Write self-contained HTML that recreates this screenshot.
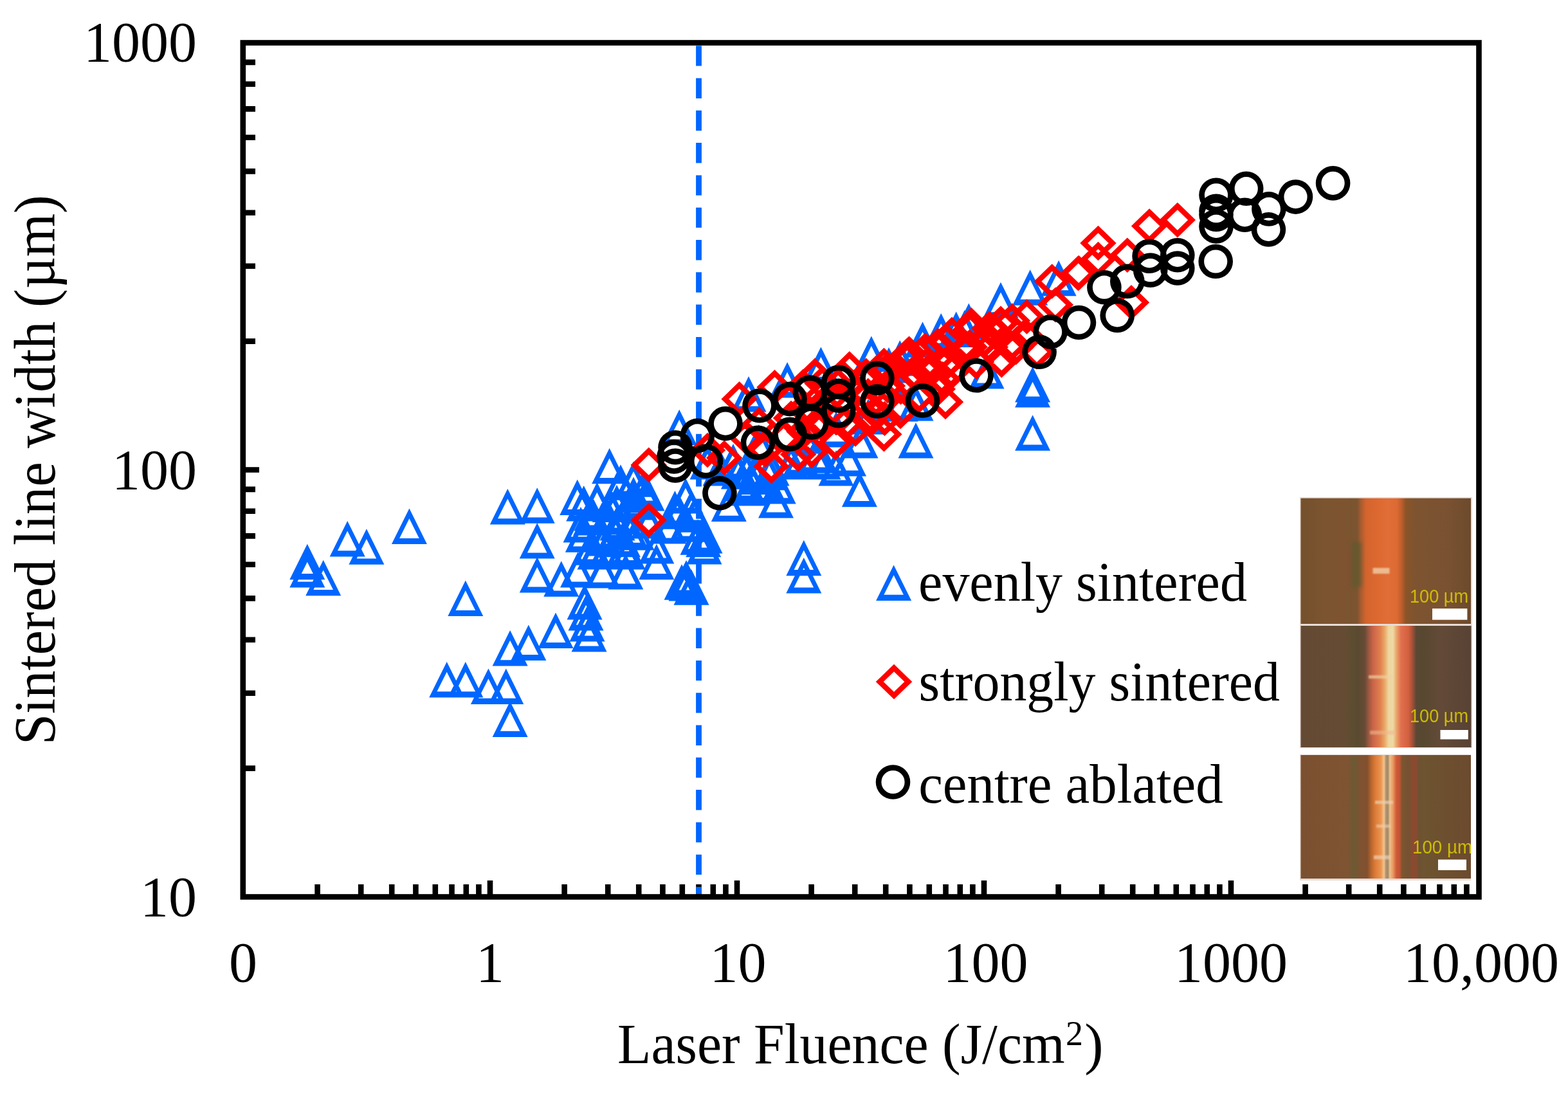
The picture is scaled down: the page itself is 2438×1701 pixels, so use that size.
<!DOCTYPE html>
<html><head><meta charset="utf-8"><title>Sintered line width vs laser fluence</title>
<style>
html,body{margin:0;padding:0;background:#fff;}
body{width:2438px;height:1701px;overflow:hidden;}
svg{display:block;}
.ax{font-family:"Liberation Serif","Times New Roman",serif;fill:#000;}
.sb{font-family:"Liberation Sans",Arial,sans-serif;fill:#d8c800;}
</style></head><body>
<svg width="2438" height="1701" viewBox="0 0 2438 1701">
<rect width="2438" height="1701" fill="#fff"/>
<path d="M493.6 1375.0V1394M561.2 1375.0V1394M609.2 1375.0V1394M646.4 1375.0V1394M676.8 1375.0V1394M702.5 1375.0V1394M724.8 1375.0V1394M744.4 1375.0V1394M762.0 1369.0V1394M877.6 1375.0V1394M945.2 1375.0V1394M993.2 1375.0V1394M1030.4 1375.0V1394M1060.8 1375.0V1394M1086.5 1375.0V1394M1108.8 1375.0V1394M1128.4 1375.0V1394M1146.0 1369.0V1394M1261.6 1375.0V1394M1329.2 1375.0V1394M1377.2 1375.0V1394M1414.4 1375.0V1394M1444.8 1375.0V1394M1470.5 1375.0V1394M1492.8 1375.0V1394M1512.4 1375.0V1394M1530.0 1369.0V1394M1645.6 1375.0V1394M1713.2 1375.0V1394M1761.2 1375.0V1394M1798.4 1375.0V1394M1828.8 1375.0V1394M1854.5 1375.0V1394M1876.8 1375.0V1394M1896.4 1375.0V1394M1914.0 1369.0V1394M2029.6 1375.0V1394M2097.2 1375.0V1394M2145.2 1375.0V1394M2182.4 1375.0V1394M2212.8 1375.0V1394M2238.5 1375.0V1394M2260.8 1375.0V1394M2280.4 1375.0V1394M378 1194.6H397.0M378 1077.7H397.0M378 994.7H397.0M378 930.4H397.0M378 877.8H397.0M378 833.4H397.0M378 794.8H397.0M378 760.9H397.0M378 730.5H403.0M378 530.6H397.0M378 413.7H397.0M378 330.7H397.0M378 266.4H397.0M378 213.8H397.0M378 169.4H397.0M378 130.8H397.0M378 96.9H397.0" stroke="#000" stroke-width="8.6" fill="none"/>
<path d="M1086.5 71.2V1390" stroke="#0066ff" stroke-width="8.8" stroke-dasharray="31.4 18.9" fill="none"/>
<defs><filter id="bl" x="-50%" y="-50%" width="200%" height="200%"><feGaussianBlur stdDeviation="3"/></filter><filter id="bl2" x="-50%" y="-50%" width="200%" height="200%"><feGaussianBlur stdDeviation="1.2"/></filter><linearGradient id="g1" gradientUnits="userSpaceOnUse" x1="2022.5" y1="0" x2="2287.0" y2="0"><stop offset="0.0000" stop-color="#74502c"/><stop offset="0.1418" stop-color="#7c5430"/><stop offset="0.2552" stop-color="#7e5430"/><stop offset="0.2930" stop-color="#7a5430"/><stop offset="0.3308" stop-color="#7c5430"/><stop offset="0.3535" stop-color="#a85c30"/><stop offset="0.3837" stop-color="#d4642e"/><stop offset="0.4442" stop-color="#dc6830"/><stop offset="0.5123" stop-color="#e06e36"/><stop offset="0.5652" stop-color="#dc6a32"/><stop offset="0.5917" stop-color="#c05e2c"/><stop offset="0.6181" stop-color="#8a5428"/><stop offset="0.6711" stop-color="#7e5430"/><stop offset="0.8601" stop-color="#7a5232"/><stop offset="1.0000" stop-color="#6c4a2c"/></linearGradient><linearGradient id="g2" gradientUnits="userSpaceOnUse" x1="2022.5" y1="0" x2="2287.0" y2="0"><stop offset="0.0000" stop-color="#644a32"/><stop offset="0.2552" stop-color="#654b33"/><stop offset="0.2930" stop-color="#5e4d30"/><stop offset="0.3384" stop-color="#5a4a30"/><stop offset="0.3762" stop-color="#684a36"/><stop offset="0.3989" stop-color="#9a5840"/><stop offset="0.4253" stop-color="#cc6448"/><stop offset="0.4669" stop-color="#e0804e"/><stop offset="0.4934" stop-color="#eaa866"/><stop offset="0.5161" stop-color="#eed6a0"/><stop offset="0.5425" stop-color="#eed8a4"/><stop offset="0.5614" stop-color="#eaa86c"/><stop offset="0.5879" stop-color="#e27050"/><stop offset="0.6333" stop-color="#d2603e"/><stop offset="0.6560" stop-color="#a45038"/><stop offset="0.6786" stop-color="#5a4834"/><stop offset="0.7164" stop-color="#584830"/><stop offset="0.8223" stop-color="#634a38"/><stop offset="1.0000" stop-color="#584234"/></linearGradient><linearGradient id="g3" gradientUnits="userSpaceOnUse" x1="2022.5" y1="0" x2="2287.0" y2="0"><stop offset="0.0000" stop-color="#7a5030"/><stop offset="0.2741" stop-color="#7e5432"/><stop offset="0.3157" stop-color="#6c5a34"/><stop offset="0.3459" stop-color="#7e5232"/><stop offset="0.3913" stop-color="#84502e"/><stop offset="0.4140" stop-color="#b8662e"/><stop offset="0.4367" stop-color="#dc7a36"/><stop offset="0.4707" stop-color="#eb9450"/><stop offset="0.4896" stop-color="#f2c48a"/><stop offset="0.5009" stop-color="#b09070"/><stop offset="0.5123" stop-color="#a08a6a"/><stop offset="0.5236" stop-color="#eec088"/><stop offset="0.5425" stop-color="#e8985e"/><stop offset="0.5614" stop-color="#d05a38"/><stop offset="0.5803" stop-color="#c45434"/><stop offset="0.5955" stop-color="#7e5430"/><stop offset="0.6333" stop-color="#745232"/><stop offset="0.6560" stop-color="#8a4a30"/><stop offset="0.6786" stop-color="#8a4a30"/><stop offset="0.6938" stop-color="#6c5232"/><stop offset="0.7240" stop-color="#6e5430"/><stop offset="1.0000" stop-color="#6c4a2e"/></linearGradient></defs>
<g><rect x="2021" y="773" width="268" height="596" fill="#e9dcd6"/><rect x="2022.5" y="774.7" width="264.5" height="195.3" fill="url(#g1)"/><rect x="2022.5" y="973" width="265" height="189" fill="url(#g2)"/><rect x="2021" y="1163" width="268" height="10" fill="#fff"/><rect x="2022.5" y="1174" width="264.5" height="192" fill="url(#g3)"/><g filter="url(#bl)"><rect x="2101" y="843" width="16" height="70" fill="#5e5a30" opacity="0.7"/><rect x="2094" y="850" width="6" height="60" fill="#8a4a30" opacity="0.5"/></g><g filter="url(#bl2)"><rect x="2134.5" y="883" width="26" height="9" fill="#f0c8a0" opacity="0.85"/><rect x="2128" y="1050" width="38" height="5" fill="#f0d0a0" opacity="0.7"/><rect x="2130" y="1136" width="40" height="6" fill="#f0b890" opacity="0.6"/><rect x="2138" y="1245" width="28" height="5" fill="#f0d0b0" opacity="0.7"/><rect x="2140" y="1282" width="22" height="5" fill="#f0d0b0" opacity="0.6"/><rect x="2136" y="1330" width="26" height="6" fill="#f0d0b0" opacity="0.7"/></g><rect x="2227" y="946.2" width="54.4" height="17.5" fill="#fff"/><rect x="2239.5" y="1135" width="43.3" height="14.5" fill="#fff"/><rect x="2236" y="1336.5" width="44" height="16.5" fill="#fff"/><g class="sb" font-size="29" opacity="0.9"><text x="2192" y="936.8" textLength="91" lengthAdjust="spacingAndGlyphs">100 µm</text><text x="2192" y="1122.7" textLength="91" lengthAdjust="spacingAndGlyphs">100 µm</text><text x="2196" y="1327" textLength="93" lengthAdjust="spacingAndGlyphs">100 µm</text></g><rect x="2287" y="1170" width="8" height="205" fill="#fff"/></g>
<path d="M477.8 845.8L505.3 901.3L450.3 901.3ZM477.8 861.5L462.5 892.1L493.1 892.1ZM477.8 858.0L505.3 913.5L450.3 913.5ZM477.8 873.8L462.5 904.4L493.1 904.4ZM502.7 870.7L530.2 926.2L475.2 926.2ZM502.7 886.5L487.4 917.1L518.0 917.1ZM540.2 809.9L567.7 865.4L512.7 865.4ZM540.2 825.6L524.9 856.2L555.5 856.2ZM569.9 822.3L597.4 877.8L542.4 877.8ZM569.9 838.0L554.6 868.6L585.2 868.6ZM636.4 790.5L663.9 846.0L608.9 846.0ZM636.4 806.2L621.1 836.9L651.7 836.9ZM723.8 902.5L751.3 958.0L696.3 958.0ZM723.8 918.2L708.5 948.9L739.1 948.9ZM694.7 1029.0L722.2 1084.5L667.2 1084.5ZM694.7 1044.8L679.4 1075.3L710.0 1075.3ZM723.8 1029.0L751.3 1084.5L696.3 1084.5ZM723.8 1044.8L708.5 1075.3L739.1 1075.3ZM759.4 1039.5L786.9 1095.0L731.9 1095.0ZM759.4 1055.2L744.1 1085.8L774.7 1085.8ZM786.8 1039.5L814.3 1095.0L759.3 1095.0ZM786.8 1055.2L771.5 1085.8L802.1 1085.8ZM793.1 1090.5L820.6 1146.0L765.6 1146.0ZM793.1 1106.2L777.8 1136.8L808.4 1136.8ZM793.1 980.0L820.6 1035.5L765.6 1035.5ZM793.1 995.8L777.8 1026.3L808.4 1026.3ZM821.8 971.5L849.3 1027.0L794.3 1027.0ZM821.8 987.2L806.5 1017.9L837.1 1017.9ZM864.0 952.5L891.5 1008.0L836.5 1008.0ZM864.0 968.2L848.7 998.9L879.3 998.9ZM909.0 908.0L936.5 963.5L881.5 963.5ZM909.0 923.8L893.7 954.4L924.3 954.4ZM911.0 925.0L938.5 980.5L883.5 980.5ZM911.0 940.8L895.7 971.4L926.3 971.4ZM913.0 942.0L940.5 997.5L885.5 997.5ZM913.0 957.8L897.7 988.4L928.3 988.4ZM916.0 958.0L943.5 1013.5L888.5 1013.5ZM916.0 973.8L900.7 1004.4L931.3 1004.4ZM789.3 759.9L816.8 815.4L761.8 815.4ZM789.3 775.6L774.0 806.2L804.6 806.2ZM835.2 758.3L862.7 813.8L807.7 813.8ZM835.2 774.0L819.9 804.6L850.5 804.6ZM835.2 813.0L862.7 868.5L807.7 868.5ZM835.2 828.8L819.9 859.4L850.5 859.4ZM835.2 866.0L862.7 921.5L807.7 921.5ZM835.2 881.8L819.9 912.4L850.5 912.4ZM872.7 872.3L900.2 927.8L845.2 927.8ZM872.7 888.0L857.4 918.6L888.0 918.6ZM947.6 696.8L975.1 752.3L920.1 752.3ZM947.6 712.5L932.3 743.1L962.9 743.1ZM897.7 745.5L925.2 801.0L870.2 801.0ZM897.7 761.2L882.4 791.9L913.0 791.9ZM948.3 756.6L975.8 812.1L920.8 812.1ZM948.3 772.4L933.0 803.0L963.6 803.0ZM992.0 753.0L1019.5 808.5L964.5 808.5ZM992.0 768.8L976.7 799.4L1007.3 799.4ZM985.0 741.5L1012.5 797.0L957.5 797.0ZM985.0 757.2L969.7 787.9L1000.3 787.9ZM1006.0 739.0L1033.5 794.5L978.5 794.5ZM1006.0 754.8L990.7 785.4L1021.3 785.4ZM903.0 788.0L930.5 843.5L875.5 843.5ZM903.0 803.8L887.7 834.4L918.3 834.4ZM939.6 809.0L967.1 864.5L912.1 864.5ZM939.6 824.8L924.3 855.4L954.9 855.4ZM968.4 810.8L995.9 866.3L940.9 866.3ZM968.4 826.5L953.1 857.1L983.7 857.1ZM976.0 830.0L1003.5 885.5L948.5 885.5ZM976.0 845.8L960.7 876.4L991.3 876.4ZM898.5 858.0L926.0 913.5L871.0 913.5ZM898.5 873.8L883.2 904.4L913.8 904.4ZM937.0 859.0L964.5 914.5L909.5 914.5ZM937.0 874.8L921.7 905.4L952.3 905.4ZM972.8 861.0L1000.3 916.5L945.3 916.5ZM972.8 876.8L957.5 907.4L988.1 907.4ZM1020.8 845.7L1048.3 901.2L993.3 901.2ZM1020.8 861.5L1005.5 892.1L1036.1 892.1ZM1020.8 821.0L1048.3 876.5L993.3 876.5ZM1020.8 836.8L1005.5 867.4L1036.1 867.4ZM1008.5 782.0L1036.0 837.5L981.0 837.5ZM1008.5 797.8L993.2 828.4L1023.8 828.4ZM920.0 770.0L947.5 825.5L892.5 825.5ZM920.0 785.8L904.7 816.4L935.3 816.4ZM960.0 785.0L987.5 840.5L932.5 840.5ZM960.0 800.8L944.7 831.4L975.3 831.4ZM925.0 830.0L952.5 885.5L897.5 885.5ZM925.0 845.8L909.7 876.4L940.3 876.4ZM990.0 800.0L1017.5 855.5L962.5 855.5ZM990.0 815.8L974.7 846.4L1005.3 846.4ZM1066.0 743.0L1093.5 798.5L1038.5 798.5ZM1066.0 758.8L1050.7 789.4L1081.3 789.4ZM1075.0 762.0L1102.5 817.5L1047.5 817.5ZM1075.0 777.8L1059.7 808.4L1090.3 808.4ZM1049.4 763.0L1076.9 818.5L1021.9 818.5ZM1049.4 778.8L1034.1 809.4L1064.7 809.4ZM1096.0 805.0L1123.5 860.5L1068.5 860.5ZM1096.0 820.8L1080.7 851.4L1111.3 851.4ZM1095.0 822.0L1122.5 877.5L1067.5 877.5ZM1095.0 837.8L1079.7 868.4L1110.3 868.4ZM1161.0 703.5L1188.5 759.0L1133.5 759.0ZM1161.0 719.2L1145.7 749.9L1176.3 749.9ZM1176.8 713.5L1204.3 769.0L1149.3 769.0ZM1176.8 729.2L1161.5 759.9L1192.1 759.9ZM1155.8 724.0L1183.3 779.5L1128.3 779.5ZM1155.8 739.8L1140.5 770.4L1171.1 770.4ZM1133.3 755.4L1160.8 810.9L1105.8 810.9ZM1133.3 771.1L1118.0 801.8L1148.6 801.8ZM1206.5 750.0L1234.0 805.5L1179.0 805.5ZM1206.5 765.8L1191.2 796.4L1221.8 796.4ZM1067.0 871.0L1094.5 926.5L1039.5 926.5ZM1067.0 886.8L1051.7 917.4L1082.3 917.4ZM1067.0 879.0L1094.5 934.5L1039.5 934.5ZM1067.0 894.8L1051.7 925.4L1082.3 925.4ZM1093.7 810.8L1121.2 866.3L1066.2 866.3ZM1093.7 826.5L1078.4 857.1L1109.0 857.1ZM1040.0 790.0L1067.5 845.5L1012.5 845.5ZM1040.0 805.8L1024.7 836.4L1055.3 836.4ZM1120.0 700.0L1147.5 755.5L1092.5 755.5ZM1120.0 715.8L1104.7 746.4L1135.3 746.4ZM1140.0 690.0L1167.5 745.5L1112.5 745.5ZM1140.0 705.8L1124.7 736.4L1155.3 736.4ZM1100.0 690.0L1127.5 745.5L1072.5 745.5ZM1100.0 705.8L1084.7 736.4L1115.3 736.4ZM1249.8 839.7L1277.3 895.2L1222.3 895.2ZM1249.8 855.5L1234.5 886.1L1265.1 886.1ZM1249.8 867.0L1277.3 922.5L1222.3 922.5ZM1249.8 882.8L1234.5 913.4L1265.1 913.4ZM1056.2 636.8L1083.7 692.3L1028.7 692.3ZM1056.2 652.5L1040.9 683.1L1071.5 683.1ZM1164.0 585.1L1191.5 640.6L1136.5 640.6ZM1164.0 600.9L1148.7 631.5L1179.3 631.5ZM1224.1 562.9L1251.6 618.4L1196.6 618.4ZM1224.1 578.6L1208.8 609.2L1239.4 609.2ZM1276.4 539.4L1303.9 594.9L1248.9 594.9ZM1276.4 555.1L1261.1 585.8L1291.7 585.8ZM1354.8 522.4L1382.3 577.9L1327.3 577.9ZM1354.8 538.1L1339.5 568.8L1370.1 568.8ZM1399.2 528.9L1426.7 584.4L1371.7 584.4ZM1399.2 544.6L1383.9 575.2L1414.5 575.2ZM1434.5 500.2L1462.0 555.7L1407.0 555.7ZM1434.5 516.0L1419.2 546.6L1449.8 546.6ZM1463.2 487.1L1490.7 542.6L1435.7 542.6ZM1463.2 502.9L1447.9 533.5L1478.5 533.5ZM1506.3 471.5L1533.8 527.0L1478.8 527.0ZM1506.3 487.2L1491.0 517.9L1521.6 517.9ZM1556.0 438.8L1583.5 494.3L1528.5 494.3ZM1556.0 454.6L1540.7 485.2L1571.3 485.2ZM1601.7 419.2L1629.2 474.7L1574.2 474.7ZM1601.7 434.9L1586.4 465.6L1617.0 465.6ZM1646.1 404.8L1673.6 460.3L1618.6 460.3ZM1646.1 420.6L1630.8 451.2L1661.4 451.2ZM1486.7 484.5L1514.2 540.0L1459.2 540.0ZM1486.7 500.2L1471.4 530.9L1502.0 530.9ZM1499.8 481.9L1527.3 537.4L1472.3 537.4ZM1499.8 497.6L1484.5 528.2L1515.1 528.2ZM1382.0 540.0L1409.5 595.5L1354.5 595.5ZM1382.0 555.8L1366.7 586.4L1397.3 586.4ZM1534.0 549.0L1561.5 604.5L1506.5 604.5ZM1534.0 564.8L1518.7 595.4L1549.3 595.4ZM1424.0 599.0L1451.5 654.5L1396.5 654.5ZM1424.0 614.8L1408.7 645.4L1439.3 645.4ZM1605.6 645.2L1633.1 700.7L1578.1 700.7ZM1605.6 661.0L1590.3 691.6L1620.9 691.6ZM1605.6 570.0L1633.1 625.5L1578.1 625.5ZM1605.6 585.8L1590.3 616.4L1620.9 616.4ZM1605.6 578.0L1633.1 633.5L1578.1 633.5ZM1605.6 593.8L1590.3 624.4L1620.9 624.4ZM1424.0 657.0L1451.5 712.5L1396.5 712.5ZM1424.0 672.8L1408.7 703.4L1439.3 703.4ZM1338.0 657.0L1365.5 712.5L1310.5 712.5ZM1338.0 672.8L1322.7 703.4L1353.3 703.4ZM1336.4 732.7L1363.9 788.2L1308.9 788.2ZM1336.4 748.5L1321.1 779.1L1351.7 779.1ZM1319.5 685.0L1347.0 740.5L1292.0 740.5ZM1319.5 700.8L1304.2 731.4L1334.8 731.4ZM1300.0 700.0L1327.5 755.5L1272.5 755.5ZM1300.0 715.8L1284.7 746.4L1315.3 746.4ZM1280.0 690.0L1307.5 745.5L1252.5 745.5ZM1280.0 705.8L1264.7 736.4L1295.3 736.4ZM1200.0 700.0L1227.5 755.5L1172.5 755.5ZM1200.0 715.8L1184.7 746.4L1215.3 746.4ZM1230.0 690.0L1257.5 745.5L1202.5 745.5ZM1230.0 705.8L1214.7 736.4L1245.3 736.4ZM1180.0 660.0L1207.5 715.5L1152.5 715.5ZM1180.0 675.8L1164.7 706.4L1195.3 706.4ZM1250.0 650.0L1277.5 705.5L1222.5 705.5ZM1250.0 665.8L1234.7 696.4L1265.3 696.4ZM1300.0 640.0L1327.5 695.5L1272.5 695.5ZM1300.0 655.8L1284.7 686.4L1315.3 686.4ZM1350.0 620.0L1377.5 675.5L1322.5 675.5ZM1350.0 635.8L1334.7 666.4L1365.3 666.4ZM1400.0 600.0L1427.5 655.5L1372.5 655.5ZM1400.0 615.8L1384.7 646.4L1415.3 646.4ZM907.7 754.9L935.2 810.4L880.2 810.4ZM907.7 770.7L892.4 801.3L923.0 801.3ZM928.3 749.8L955.8 805.3L900.8 805.3ZM928.3 765.5L913.0 796.1L943.6 796.1ZM959.0 753.7L986.5 809.2L931.5 809.2ZM959.0 769.4L943.7 800.0L974.3 800.0ZM984.0 751.1L1011.5 806.6L956.5 806.6ZM984.0 766.8L968.7 797.4L999.3 797.4ZM918.6 776.9L946.1 832.4L891.1 832.4ZM918.6 792.6L903.3 823.2L933.9 823.2ZM944.5 774.2L972.0 829.7L917.0 829.7ZM944.5 790.0L929.2 820.6L959.8 820.6ZM969.6 775.6L997.1 831.1L942.1 831.1ZM969.6 791.4L954.3 822.0L984.9 822.0ZM906.3 803.2L933.8 858.7L878.8 858.7ZM906.3 819.0L891.0 849.6L921.6 849.6ZM933.7 800.5L961.2 856.0L906.2 856.0ZM933.7 816.3L918.4 846.9L949.0 846.9ZM956.7 798.9L984.2 854.4L929.2 854.4ZM956.7 814.6L941.4 845.2L972.0 845.2ZM980.2 797.4L1007.7 852.9L952.7 852.9ZM980.2 813.2L964.9 843.8L995.5 843.8ZM917.8 823.2L945.3 878.7L890.3 878.7ZM917.8 838.9L902.5 869.5L933.1 869.5ZM943.3 826.6L970.8 882.1L915.8 882.1ZM943.3 842.4L928.0 873.0L958.6 873.0ZM970.2 824.6L997.7 880.1L942.7 880.1ZM970.2 840.4L954.9 871.0L985.5 871.0ZM985.0 717.2L1012.5 772.8L957.5 772.8ZM985.0 733.0L969.7 763.6L1000.3 763.6ZM1000.0 732.2L1027.5 787.8L972.5 787.8ZM1000.0 748.0L984.7 778.6L1015.3 778.6ZM965.0 722.2L992.5 777.8L937.5 777.8ZM965.0 738.0L949.7 768.6L980.3 768.6ZM1055.0 767.2L1082.5 822.8L1027.5 822.8ZM1055.0 783.0L1039.7 813.6L1070.3 813.6ZM1080.0 772.2L1107.5 827.8L1052.5 827.8ZM1080.0 788.0L1064.7 818.6L1095.3 818.6ZM1068.0 787.2L1095.5 842.8L1040.5 842.8ZM1068.0 803.0L1052.7 833.6L1083.3 833.6ZM1085.0 807.2L1112.5 862.8L1057.5 862.8ZM1085.0 823.0L1069.7 853.6L1100.3 853.6ZM1148.4 704.9L1175.9 760.4L1120.9 760.4ZM1148.4 720.6L1133.1 751.2L1163.7 751.2ZM1173.4 705.2L1200.9 760.7L1145.9 760.7ZM1173.4 720.9L1158.1 751.5L1188.7 751.5ZM1195.4 706.7L1222.9 762.2L1167.9 762.2ZM1195.4 722.4L1180.1 753.0L1210.7 753.0ZM1164.5 731.1L1192.0 786.6L1137.0 786.6ZM1164.5 746.8L1149.2 777.4L1179.8 777.4ZM1187.6 727.6L1215.1 783.1L1160.1 783.1ZM1187.6 743.3L1172.3 773.9L1202.9 773.9ZM1210.2 727.9L1237.7 783.4L1182.7 783.4ZM1210.2 743.7L1194.9 774.3L1225.5 774.3ZM1075.0 885.2L1102.5 940.8L1047.5 940.8ZM1075.0 901.0L1059.7 931.6L1090.3 931.6ZM1060.0 877.2L1087.5 932.8L1032.5 932.8ZM1060.0 893.0L1044.7 923.6L1075.3 923.6ZM1245.0 684.2L1272.5 739.8L1217.5 739.8ZM1245.0 700.0L1229.7 730.6L1260.3 730.6ZM1268.0 680.2L1295.5 735.8L1240.5 735.8ZM1268.0 696.0L1252.7 726.6L1283.3 726.6Z" fill="#0066ff"/>
<path d="M1008.7 695.6L1036.9 722.9L1008.7 750.2L980.5 722.9ZM1008.7 707.1L992.4 722.9L1008.7 738.7L1025.0 722.9ZM1008.7 781.5L1036.9 808.8L1008.7 836.1L980.5 808.8ZM1008.7 793.0L992.4 808.8L1008.7 824.6L1025.0 808.8ZM1149.6 593.1L1177.8 620.4L1149.6 647.7L1121.4 620.4ZM1149.6 604.6L1133.3 620.4L1149.6 636.2L1165.9 620.4ZM1204.5 574.8L1232.7 602.1L1204.5 629.4L1176.3 602.1ZM1204.5 586.3L1188.2 602.1L1204.5 617.9L1220.8 602.1ZM1267.2 556.5L1295.4 583.8L1267.2 611.1L1239.0 583.8ZM1267.2 568.0L1250.9 583.8L1267.2 599.6L1283.5 583.8ZM1320.8 546.1L1349.0 573.4L1320.8 600.7L1292.6 573.4ZM1320.8 557.6L1304.5 573.4L1320.8 589.2L1337.1 573.4ZM1374.4 540.8L1402.6 568.1L1374.4 595.4L1346.2 568.1ZM1374.4 552.3L1358.1 568.1L1374.4 583.9L1390.7 568.1ZM1413.6 522.5L1441.8 549.8L1413.6 577.1L1385.4 549.8ZM1413.6 534.0L1397.3 549.8L1413.6 565.6L1429.9 549.8ZM1458.0 509.5L1486.2 536.8L1458.0 564.1L1429.8 536.8ZM1458.0 521.0L1441.7 536.8L1458.0 552.6L1474.3 536.8ZM1510.2 478.1L1538.4 505.4L1510.2 532.7L1482.0 505.4ZM1510.2 489.6L1493.9 505.4L1510.2 521.2L1526.5 505.4ZM1556.0 475.5L1584.2 502.8L1556.0 530.1L1527.8 502.8ZM1556.0 487.0L1539.7 502.8L1556.0 518.6L1572.3 502.8ZM1507.6 512.1L1535.8 539.4L1507.6 566.7L1479.4 539.4ZM1507.6 523.6L1491.3 539.4L1507.6 555.2L1523.9 539.4ZM1557.3 533.0L1585.5 560.3L1557.3 587.6L1529.1 560.3ZM1557.3 544.5L1541.0 560.3L1557.3 576.1L1573.6 560.3ZM1635.7 410.2L1663.9 437.5L1635.7 464.8L1607.5 437.5ZM1635.7 421.7L1619.4 437.5L1635.7 453.3L1652.0 437.5ZM1677.5 397.1L1705.7 424.4L1677.5 451.7L1649.3 424.4ZM1677.5 408.6L1661.2 424.4L1677.5 440.2L1693.8 424.4ZM1640.9 446.8L1669.1 474.1L1640.9 501.4L1612.7 474.1ZM1640.9 458.3L1624.6 474.1L1640.9 489.9L1657.2 474.1ZM1596.5 465.1L1624.7 492.4L1596.5 519.7L1568.3 492.4ZM1596.5 476.6L1580.2 492.4L1596.5 508.2L1612.8 492.4ZM1596.5 496.4L1624.7 523.7L1596.5 551.0L1568.3 523.7ZM1596.5 507.9L1580.2 523.7L1596.5 539.5L1612.8 523.7ZM1612.1 519.9L1640.3 547.2L1612.1 574.5L1583.9 547.2ZM1612.1 531.4L1595.8 547.2L1612.1 563.0L1628.4 547.2ZM1374.4 648.0L1402.6 675.3L1374.4 702.6L1346.2 675.3ZM1374.4 659.5L1358.1 675.3L1374.4 691.1L1390.7 675.3ZM1298.6 661.0L1326.8 688.3L1298.6 715.6L1270.4 688.3ZM1298.6 672.5L1282.3 688.3L1298.6 704.1L1314.9 688.3ZM1241.1 679.3L1269.3 706.6L1241.1 733.9L1212.9 706.6ZM1241.1 690.8L1224.8 706.6L1241.1 722.4L1257.4 706.6ZM1199.3 697.6L1227.5 724.9L1199.3 752.2L1171.1 724.9ZM1199.3 709.1L1183.0 724.9L1199.3 740.7L1215.6 724.9ZM1126.1 684.6L1154.3 711.9L1126.1 739.2L1097.9 711.9ZM1126.1 696.1L1109.8 711.9L1126.1 727.7L1142.4 711.9ZM1429.2 587.9L1457.4 615.2L1429.2 642.5L1401.0 615.2ZM1429.2 599.4L1412.9 615.2L1429.2 631.0L1445.5 615.2ZM1465.8 561.7L1494.0 589.0L1465.8 616.3L1437.6 589.0ZM1465.8 573.2L1449.5 589.0L1465.8 604.8L1482.1 589.0ZM1361.3 614.0L1389.5 641.3L1361.3 668.6L1333.1 641.3ZM1361.3 625.5L1345.0 641.3L1361.3 657.1L1377.6 641.3ZM1267.2 634.9L1295.4 662.2L1267.2 689.5L1239.0 662.2ZM1267.2 646.4L1250.9 662.2L1267.2 678.0L1283.5 662.2ZM1330.0 640.1L1358.2 667.4L1330.0 694.7L1301.8 667.4ZM1330.0 651.6L1313.7 667.4L1330.0 683.2L1346.3 667.4ZM1400.5 574.8L1428.7 602.1L1400.5 629.4L1372.3 602.1ZM1400.5 586.3L1384.2 602.1L1400.5 617.9L1416.8 602.1ZM1445.0 548.7L1473.2 576.0L1445.0 603.3L1416.8 576.0ZM1445.0 560.2L1428.7 576.0L1445.0 591.8L1461.3 576.0ZM1518.0 535.7L1546.2 563.0L1518.0 590.3L1489.8 563.0ZM1518.0 547.2L1501.7 563.0L1518.0 578.8L1534.3 563.0ZM1256.8 614.0L1285.0 641.3L1256.8 668.6L1228.6 641.3ZM1256.8 625.5L1240.5 641.3L1256.8 657.1L1273.1 641.3ZM1262.0 674.1L1290.2 701.4L1262.0 728.7L1233.8 701.4ZM1262.0 685.6L1245.7 701.4L1262.0 717.2L1278.3 701.4ZM1480.0 550.7L1508.2 578.0L1480.0 605.3L1451.8 578.0ZM1480.0 562.2L1463.7 578.0L1480.0 593.8L1496.3 578.0ZM1441.0 539.7L1469.2 567.0L1441.0 594.3L1412.8 567.0ZM1441.0 551.2L1424.7 567.0L1441.0 582.8L1457.3 567.0ZM1457.8 577.7L1486.0 605.0L1457.8 632.3L1429.6 605.0ZM1457.8 589.2L1441.5 605.0L1457.8 620.8L1474.1 605.0ZM1470.0 597.7L1498.2 625.0L1470.0 652.3L1441.8 625.0ZM1470.0 609.2L1453.7 625.0L1470.0 640.8L1486.3 625.0ZM1411.0 524.7L1439.2 552.0L1411.0 579.3L1382.8 552.0ZM1411.0 536.2L1394.7 552.0L1411.0 567.8L1427.3 552.0ZM1330.0 582.7L1358.2 610.0L1330.0 637.3L1301.8 610.0ZM1330.0 594.2L1313.7 610.0L1330.0 625.8L1346.3 610.0ZM1300.0 622.7L1328.2 650.0L1300.0 677.3L1271.8 650.0ZM1300.0 634.2L1283.7 650.0L1300.0 665.8L1316.3 650.0ZM1400.0 612.7L1428.2 640.0L1400.0 667.3L1371.8 640.0ZM1400.0 624.2L1383.7 640.0L1400.0 655.8L1416.3 640.0ZM1180.0 632.7L1208.2 660.0L1180.0 687.3L1151.8 660.0ZM1180.0 644.2L1163.7 660.0L1180.0 675.8L1196.3 660.0ZM1230.0 622.7L1258.2 650.0L1230.0 677.3L1201.8 650.0ZM1230.0 634.2L1213.7 650.0L1230.0 665.8L1246.3 650.0ZM1220.0 652.7L1248.2 680.0L1220.0 707.3L1191.8 680.0ZM1220.0 664.2L1203.7 680.0L1220.0 695.8L1236.3 680.0ZM1530.0 502.7L1558.2 530.0L1530.0 557.3L1501.8 530.0ZM1530.0 514.2L1513.7 530.0L1530.0 545.8L1546.3 530.0ZM1550.0 492.7L1578.2 520.0L1550.0 547.3L1521.8 520.0ZM1550.0 504.2L1533.7 520.0L1550.0 535.8L1566.3 520.0ZM1580.0 512.7L1608.2 540.0L1580.0 567.3L1551.8 540.0ZM1580.0 524.2L1563.7 540.0L1580.0 555.8L1596.3 540.0ZM1480.0 492.7L1508.2 520.0L1480.0 547.3L1451.8 520.0ZM1480.0 504.2L1463.7 520.0L1480.0 535.8L1496.3 520.0ZM1420.0 552.7L1448.2 580.0L1420.0 607.3L1391.8 580.0ZM1420.0 564.2L1403.7 580.0L1420.0 595.8L1436.3 580.0ZM1380.0 572.7L1408.2 600.0L1380.0 627.3L1351.8 600.0ZM1380.0 584.2L1363.7 600.0L1380.0 615.8L1396.3 600.0ZM1340.0 592.7L1368.2 620.0L1340.0 647.3L1311.8 620.0ZM1340.0 604.2L1323.7 620.0L1340.0 635.8L1356.3 620.0ZM1290.0 592.7L1318.2 620.0L1290.0 647.3L1261.8 620.0ZM1290.0 604.2L1273.7 620.0L1290.0 635.8L1306.3 620.0ZM1160.0 652.7L1188.2 680.0L1160.0 707.3L1131.8 680.0ZM1160.0 664.2L1143.7 680.0L1160.0 695.8L1176.3 680.0ZM1190.0 672.7L1218.2 700.0L1190.0 727.3L1161.8 700.0ZM1190.0 684.2L1173.7 700.0L1190.0 715.8L1206.3 700.0ZM1100.0 672.7L1128.2 700.0L1100.0 727.3L1071.8 700.0ZM1100.0 684.2L1083.7 700.0L1100.0 715.8L1116.3 700.0ZM1707.5 350.7L1735.7 378.0L1707.5 405.3L1679.3 378.0ZM1707.5 362.2L1691.2 378.0L1707.5 393.8L1723.8 378.0ZM1752.8 369.5L1781.0 396.8L1752.8 424.1L1724.6 396.8ZM1752.8 381.0L1736.5 396.8L1752.8 412.6L1769.1 396.8ZM1707.5 375.7L1735.7 403.0L1707.5 430.3L1679.3 403.0ZM1707.5 387.2L1691.2 403.0L1707.5 418.8L1723.8 403.0ZM1759.0 442.9L1787.2 470.2L1759.0 497.5L1730.8 470.2ZM1759.0 454.4L1742.7 470.2L1759.0 486.0L1775.3 470.2ZM1676.3 397.6L1704.5 424.9L1676.3 452.2L1648.1 424.9ZM1676.3 409.1L1660.0 424.9L1676.3 440.7L1692.6 424.9ZM1787.1 324.2L1815.3 351.5L1787.1 378.8L1758.9 351.5ZM1787.1 335.7L1770.8 351.5L1787.1 367.3L1803.4 351.5ZM1830.8 314.8L1859.0 342.1L1830.8 369.4L1802.6 342.1ZM1830.8 326.3L1814.5 342.1L1830.8 357.9L1847.1 342.1ZM1248.6 573.8L1276.8 601.1L1248.6 628.4L1220.4 601.1ZM1248.6 585.3L1232.3 601.1L1248.6 616.9L1264.9 601.1ZM1251.2 607.2L1279.4 634.5L1251.2 661.8L1223.0 634.5ZM1251.2 618.7L1234.9 634.5L1251.2 650.3L1267.5 634.5ZM1250.3 643.6L1278.5 670.9L1250.3 698.2L1222.1 670.9ZM1250.3 655.1L1234.0 670.9L1250.3 686.7L1266.6 670.9ZM1278.5 568.9L1306.7 596.2L1278.5 623.5L1250.3 596.2ZM1278.5 580.4L1262.2 596.2L1278.5 612.0L1294.8 596.2ZM1278.3 602.3L1306.5 629.6L1278.3 656.9L1250.1 629.6ZM1278.3 613.8L1262.0 629.6L1278.3 645.4L1294.6 629.6ZM1278.6 633.5L1306.8 660.8L1278.6 688.1L1250.4 660.8ZM1278.6 645.0L1262.3 660.8L1278.6 676.6L1294.9 660.8ZM1313.4 562.3L1341.6 589.6L1313.4 616.9L1285.2 589.6ZM1313.4 573.8L1297.1 589.6L1313.4 605.4L1329.7 589.6ZM1311.0 591.5L1339.2 618.8L1311.0 646.1L1282.8 618.8ZM1311.0 603.0L1294.7 618.8L1311.0 634.6L1327.3 618.8ZM1315.0 631.3L1343.2 658.6L1315.0 685.9L1286.8 658.6ZM1315.0 642.8L1298.7 658.6L1315.0 674.4L1331.3 658.6ZM1346.6 556.6L1374.8 583.9L1346.6 611.2L1318.4 583.9ZM1346.6 568.1L1330.3 583.9L1346.6 599.7L1362.9 583.9ZM1349.8 587.8L1378.0 615.1L1349.8 642.4L1321.6 615.1ZM1349.8 599.3L1333.5 615.1L1349.8 630.9L1366.1 615.1ZM1348.9 623.7L1377.1 651.0L1348.9 678.3L1320.7 651.0ZM1348.9 635.2L1332.6 651.0L1348.9 666.8L1365.2 651.0ZM1375.2 551.7L1403.4 579.0L1375.2 606.3L1347.0 579.0ZM1375.2 563.2L1358.9 579.0L1375.2 594.8L1391.5 579.0ZM1376.5 591.3L1404.7 618.6L1376.5 645.9L1348.3 618.6ZM1376.5 602.8L1360.2 618.6L1376.5 634.4L1392.8 618.6ZM1375.4 623.4L1403.6 650.7L1375.4 678.0L1347.2 650.7ZM1375.4 634.9L1359.1 650.7L1375.4 666.5L1391.7 650.7ZM1411.1 532.7L1439.3 560.0L1411.1 587.3L1382.9 560.0ZM1411.1 544.2L1394.8 560.0L1411.1 575.8L1427.4 560.0ZM1410.4 564.2L1438.6 591.5L1410.4 618.8L1382.2 591.5ZM1410.4 575.7L1394.1 591.5L1410.4 607.3L1426.7 591.5ZM1438.5 517.2L1466.7 544.5L1438.5 571.8L1410.3 544.5ZM1438.5 528.7L1422.2 544.5L1438.5 560.3L1454.8 544.5ZM1443.4 553.0L1471.6 580.3L1443.4 607.6L1415.2 580.3ZM1443.4 564.5L1427.1 580.3L1443.4 596.1L1459.7 580.3ZM1472.5 504.1L1500.7 531.4L1472.5 558.7L1444.3 531.4ZM1472.5 515.6L1456.2 531.4L1472.5 547.2L1488.8 531.4ZM1473.6 535.8L1501.8 563.1L1473.6 590.4L1445.4 563.1ZM1473.6 547.3L1457.3 563.1L1473.6 578.9L1489.9 563.1ZM1508.4 485.7L1536.6 513.0L1508.4 540.3L1480.2 513.0ZM1508.4 497.2L1492.1 513.0L1508.4 528.8L1524.7 513.0ZM1504.0 518.7L1532.2 546.0L1504.0 573.3L1475.8 546.0ZM1504.0 530.2L1487.7 546.0L1504.0 561.8L1520.3 546.0ZM1538.2 483.1L1566.4 510.4L1538.2 537.7L1510.0 510.4ZM1538.2 494.6L1521.9 510.4L1538.2 526.2L1554.5 510.4ZM1539.8 512.4L1568.0 539.7L1539.8 567.0L1511.6 539.7ZM1539.8 523.9L1523.5 539.7L1539.8 555.5L1556.1 539.7ZM1573.8 471.3L1602.0 498.6L1573.8 525.9L1545.6 498.6ZM1573.8 482.8L1557.5 498.6L1573.8 514.4L1590.1 498.6ZM1569.3 510.5L1597.5 537.8L1569.3 565.1L1541.1 537.8ZM1569.3 522.0L1553.0 537.8L1569.3 553.6L1585.6 537.8Z" fill="#ff0000"/>
<path d="M1023.2 695.7A26.8 26.8 0 1 1 1076.8 695.7A26.8 26.8 0 1 1 1023.2 695.7ZM1031.9 695.7A18.1 18.1 0 1 0 1068.1 695.7A18.1 18.1 0 1 0 1031.9 695.7ZM1023.2 724.0A26.8 26.8 0 1 1 1076.8 724.0A26.8 26.8 0 1 1 1023.2 724.0ZM1031.9 724.0A18.1 18.1 0 1 0 1068.1 724.0A18.1 18.1 0 1 0 1031.9 724.0ZM1057.5 677.4A26.8 26.8 0 1 1 1111.1 677.4A26.8 26.8 0 1 1 1057.5 677.4ZM1066.2 677.4A18.1 18.1 0 1 0 1102.4 677.4A18.1 18.1 0 1 0 1066.2 677.4ZM1070.8 717.0A26.8 26.8 0 1 1 1124.4 717.0A26.8 26.8 0 1 1 1070.8 717.0ZM1079.5 717.0A18.1 18.1 0 1 0 1115.7 717.0A18.1 18.1 0 1 0 1079.5 717.0ZM1101.2 658.6A26.8 26.8 0 1 1 1154.8 658.6A26.8 26.8 0 1 1 1101.2 658.6ZM1109.9 658.6A18.1 18.1 0 1 0 1146.1 658.6A18.1 18.1 0 1 0 1109.9 658.6ZM1092.1 766.8A26.8 26.8 0 1 1 1145.7 766.8A26.8 26.8 0 1 1 1092.1 766.8ZM1100.8 766.8A18.1 18.1 0 1 0 1137.0 766.8A18.1 18.1 0 1 0 1100.8 766.8ZM1021.2 710.0A26.8 26.8 0 1 1 1074.8 710.0A26.8 26.8 0 1 1 1021.2 710.0ZM1029.9 710.0A18.1 18.1 0 1 0 1066.1 710.0A18.1 18.1 0 1 0 1029.9 710.0ZM1154.2 630.8A26.8 26.8 0 1 1 1207.8 630.8A26.8 26.8 0 1 1 1154.2 630.8ZM1162.9 630.8A18.1 18.1 0 1 0 1199.1 630.8A18.1 18.1 0 1 0 1162.9 630.8ZM1151.6 688.3A26.8 26.8 0 1 1 1205.2 688.3A26.8 26.8 0 1 1 1151.6 688.3ZM1160.3 688.3A18.1 18.1 0 1 0 1196.5 688.3A18.1 18.1 0 1 0 1160.3 688.3ZM1201.2 620.4A26.8 26.8 0 1 1 1254.8 620.4A26.8 26.8 0 1 1 1201.2 620.4ZM1209.9 620.4A18.1 18.1 0 1 0 1246.1 620.4A18.1 18.1 0 1 0 1209.9 620.4ZM1201.2 675.3A26.8 26.8 0 1 1 1254.8 675.3A26.8 26.8 0 1 1 1201.2 675.3ZM1209.9 675.3A18.1 18.1 0 1 0 1246.1 675.3A18.1 18.1 0 1 0 1209.9 675.3ZM1232.6 610.0A26.8 26.8 0 1 1 1286.2 610.0A26.8 26.8 0 1 1 1232.6 610.0ZM1241.3 610.0A18.1 18.1 0 1 0 1277.5 610.0A18.1 18.1 0 1 0 1241.3 610.0ZM1235.2 657.0A26.8 26.8 0 1 1 1288.8 657.0A26.8 26.8 0 1 1 1235.2 657.0ZM1243.9 657.0A18.1 18.1 0 1 0 1280.1 657.0A18.1 18.1 0 1 0 1243.9 657.0ZM1277.0 594.3A26.8 26.8 0 1 1 1330.6 594.3A26.8 26.8 0 1 1 1277.0 594.3ZM1285.7 594.3A18.1 18.1 0 1 0 1321.9 594.3A18.1 18.1 0 1 0 1285.7 594.3ZM1277.0 615.2A26.8 26.8 0 1 1 1330.6 615.2A26.8 26.8 0 1 1 1277.0 615.2ZM1285.7 615.2A18.1 18.1 0 1 0 1321.9 615.2A18.1 18.1 0 1 0 1285.7 615.2ZM1277.0 638.7A26.8 26.8 0 1 1 1330.6 638.7A26.8 26.8 0 1 1 1277.0 638.7ZM1285.7 638.7A18.1 18.1 0 1 0 1321.9 638.7A18.1 18.1 0 1 0 1285.7 638.7ZM1337.1 588.0A26.8 26.8 0 1 1 1390.7 588.0A26.8 26.8 0 1 1 1337.1 588.0ZM1345.8 588.0A18.1 18.1 0 1 0 1382.0 588.0A18.1 18.1 0 1 0 1345.8 588.0ZM1337.1 624.0A26.8 26.8 0 1 1 1390.7 624.0A26.8 26.8 0 1 1 1337.1 624.0ZM1345.8 624.0A18.1 18.1 0 1 0 1382.0 624.0A18.1 18.1 0 1 0 1345.8 624.0ZM1407.7 623.0A26.8 26.8 0 1 1 1461.3 623.0A26.8 26.8 0 1 1 1407.7 623.0ZM1416.4 623.0A18.1 18.1 0 1 0 1452.6 623.0A18.1 18.1 0 1 0 1416.4 623.0ZM1491.3 583.8A26.8 26.8 0 1 1 1544.9 583.8A26.8 26.8 0 1 1 1491.3 583.8ZM1500.0 583.8A18.1 18.1 0 1 0 1536.2 583.8A18.1 18.1 0 1 0 1500.0 583.8ZM1589.3 547.2A26.8 26.8 0 1 1 1642.9 547.2A26.8 26.8 0 1 1 1589.3 547.2ZM1598.0 547.2A18.1 18.1 0 1 0 1634.2 547.2A18.1 18.1 0 1 0 1598.0 547.2ZM1606.3 515.9A26.8 26.8 0 1 1 1659.9 515.9A26.8 26.8 0 1 1 1606.3 515.9ZM1615.0 515.9A18.1 18.1 0 1 0 1651.2 515.9A18.1 18.1 0 1 0 1615.0 515.9ZM1650.7 501.5A26.8 26.8 0 1 1 1704.3 501.5A26.8 26.8 0 1 1 1650.7 501.5ZM1659.4 501.5A18.1 18.1 0 1 0 1695.6 501.5A18.1 18.1 0 1 0 1659.4 501.5ZM1690.1 446.7A26.8 26.8 0 1 1 1743.7 446.7A26.8 26.8 0 1 1 1690.1 446.7ZM1698.8 446.7A18.1 18.1 0 1 0 1735.0 446.7A18.1 18.1 0 1 0 1698.8 446.7ZM1710.4 490.4A26.8 26.8 0 1 1 1764.0 490.4A26.8 26.8 0 1 1 1710.4 490.4ZM1719.1 490.4A18.1 18.1 0 1 0 1755.3 490.4A18.1 18.1 0 1 0 1719.1 490.4ZM1726.0 437.4A26.8 26.8 0 1 1 1779.6 437.4A26.8 26.8 0 1 1 1726.0 437.4ZM1734.7 437.4A18.1 18.1 0 1 0 1770.9 437.4A18.1 18.1 0 1 0 1734.7 437.4ZM1760.3 398.3A26.8 26.8 0 1 1 1813.9 398.3A26.8 26.8 0 1 1 1760.3 398.3ZM1769.0 398.3A18.1 18.1 0 1 0 1805.2 398.3A18.1 18.1 0 1 0 1769.0 398.3ZM1761.9 420.2A26.8 26.8 0 1 1 1815.5 420.2A26.8 26.8 0 1 1 1761.9 420.2ZM1770.6 420.2A18.1 18.1 0 1 0 1806.8 420.2A18.1 18.1 0 1 0 1770.6 420.2ZM1804.0 396.8A26.8 26.8 0 1 1 1857.6 396.8A26.8 26.8 0 1 1 1804.0 396.8ZM1812.7 396.8A18.1 18.1 0 1 0 1848.9 396.8A18.1 18.1 0 1 0 1812.7 396.8ZM1804.0 417.0A26.8 26.8 0 1 1 1857.6 417.0A26.8 26.8 0 1 1 1804.0 417.0ZM1812.7 417.0A18.1 18.1 0 1 0 1848.9 417.0A18.1 18.1 0 1 0 1812.7 417.0ZM1863.4 406.5A26.8 26.8 0 1 1 1917.0 406.5A26.8 26.8 0 1 1 1863.4 406.5ZM1872.1 406.5A18.1 18.1 0 1 0 1908.3 406.5A18.1 18.1 0 1 0 1872.1 406.5ZM1864.2 303.3A26.8 26.8 0 1 1 1917.8 303.3A26.8 26.8 0 1 1 1864.2 303.3ZM1872.9 303.3A18.1 18.1 0 1 0 1909.1 303.3A18.1 18.1 0 1 0 1872.9 303.3ZM1864.2 328.2A26.8 26.8 0 1 1 1917.8 328.2A26.8 26.8 0 1 1 1864.2 328.2ZM1872.9 328.2A18.1 18.1 0 1 0 1909.1 328.2A18.1 18.1 0 1 0 1872.9 328.2ZM1864.2 333.5A26.8 26.8 0 1 1 1917.8 333.5A26.8 26.8 0 1 1 1864.2 333.5ZM1872.9 333.5A18.1 18.1 0 1 0 1909.1 333.5A18.1 18.1 0 1 0 1872.9 333.5ZM1864.2 351.9A26.8 26.8 0 1 1 1917.8 351.9A26.8 26.8 0 1 1 1864.2 351.9ZM1872.9 351.9A18.1 18.1 0 1 0 1909.1 351.9A18.1 18.1 0 1 0 1872.9 351.9ZM1908.6 334.3A26.8 26.8 0 1 1 1962.2 334.3A26.8 26.8 0 1 1 1908.6 334.3ZM1917.3 334.3A18.1 18.1 0 1 0 1953.5 334.3A18.1 18.1 0 1 0 1917.3 334.3ZM1910.9 293.2A26.8 26.8 0 1 1 1964.5 293.2A26.8 26.8 0 1 1 1910.9 293.2ZM1919.6 293.2A18.1 18.1 0 1 0 1955.8 293.2A18.1 18.1 0 1 0 1919.6 293.2ZM1946.1 324.9A26.8 26.8 0 1 1 1999.7 324.9A26.8 26.8 0 1 1 1946.1 324.9ZM1954.8 324.9A18.1 18.1 0 1 0 1991.0 324.9A18.1 18.1 0 1 0 1954.8 324.9ZM1945.6 356.9A26.8 26.8 0 1 1 1999.2 356.9A26.8 26.8 0 1 1 1945.6 356.9ZM1954.3 356.9A18.1 18.1 0 1 0 1990.5 356.9A18.1 18.1 0 1 0 1954.3 356.9ZM1987.7 306.1A26.8 26.8 0 1 1 2041.3 306.1A26.8 26.8 0 1 1 1987.7 306.1ZM1996.4 306.1A18.1 18.1 0 1 0 2032.6 306.1A18.1 18.1 0 1 0 1996.4 306.1ZM2045.8 284.8A26.8 26.8 0 1 1 2099.4 284.8A26.8 26.8 0 1 1 2045.8 284.8ZM2054.5 284.8A18.1 18.1 0 1 0 2090.7 284.8A18.1 18.1 0 1 0 2054.5 284.8Z" fill="#000"/>
<rect x="377.8" y="66.5" width="1921.7" height="1328.0" stroke="#000" stroke-width="8.6" fill="none"/>
<g class="ax" font-size="88">
<text x="306" y="95.0" text-anchor="end">1000</text>
<text x="306" y="760.0" text-anchor="end">100</text>
<text x="306" y="1424.0" text-anchor="end">10</text>
<text x="378.0" y="1526" text-anchor="middle">0</text>
<text x="762.0" y="1526" text-anchor="middle">1</text>
<text x="1147.5" y="1526" text-anchor="middle">10</text>
<text x="1532.5" y="1526" text-anchor="middle">100</text>
<text x="1914.0" y="1526" text-anchor="middle">1000</text>
<text x="2303.0" y="1526" text-anchor="middle">10,000</text>
</g>
<g class="ax"><text transform="translate(84.5,1158) rotate(-90)" font-size="90" textLength="854.9" lengthAdjust="spacingAndGlyphs">Sintered line width (µm)</text><text x="960.1" y="1653.4" font-size="88" textLength="695.6" lengthAdjust="spacingAndGlyphs">Laser Fluence (J/cm</text><text x="1657.1" y="1624.5" font-size="54">2</text><text x="1686.2" y="1653.4" font-size="88">)</text></g>
<path d="M1389.6 878.5L1417.1 934L1362.1 934ZM1389.6 894.2L1374.3 924.8L1404.9 924.8Z" fill="#0066ff"/><path d="M1390 1032.7L1418.2 1060L1390 1087.3L1361.8 1060ZM1390 1044.2L1373.7 1060L1390 1075.8L1406.3 1060Z" fill="#ff0000"/><path d="M1361.7 1216A26.8 26.8 0 1 1 1415.3 1216A26.8 26.8 0 1 1 1361.7 1216ZM1370.4 1216A18.1 18.1 0 1 0 1406.6 1216A18.1 18.1 0 1 0 1370.4 1216Z" fill="#000"/><g class="ax" font-size="87"><text x="1428.1" y="934.2" textLength="510.8" lengthAdjust="spacingAndGlyphs">evenly sintered</text><text x="1428.6" y="1089.4" textLength="561.4" lengthAdjust="spacingAndGlyphs">strongly sintered</text><text x="1428.2" y="1247.5" textLength="473.4" lengthAdjust="spacingAndGlyphs">centre ablated</text></g>
</svg>
</body></html>
